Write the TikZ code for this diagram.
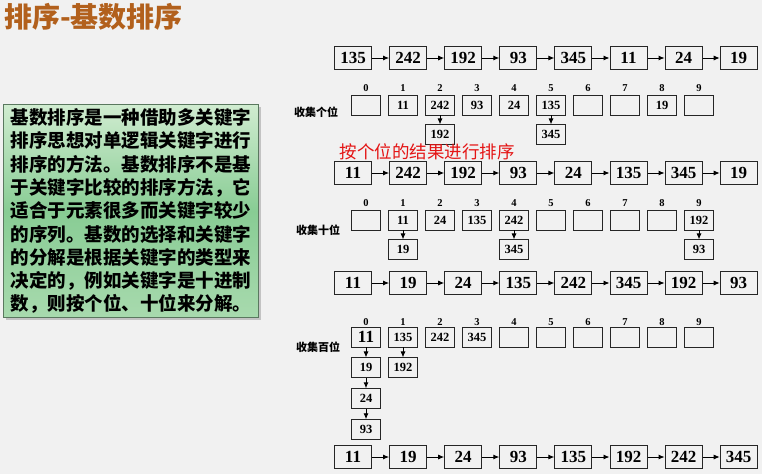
\documentclass[tikz,border=0pt]{standalone}
\usepackage{fontspec}
\setmainfont{Liberation Serif}
\newfontfamily\cjk{Noto Sans CJK SC}
\usetikzlibrary{positioning,shadows,arrows.meta}

\definecolor{pagegrey}{RGB}{241,241,241}
\definecolor{titlebrown}{RGB}{178,96,28}
\definecolor{notered}{RGB}{228,20,20}
\definecolor{greentop}{RGB}{208,236,208}
\definecolor{greenmid}{RGB}{136,204,148}
\definecolor{greenbot}{RGB}{168,218,174}
\definecolor{greenedge}{RGB}{90,120,95}

\begin{document}
\begin{tikzpicture}[x=1pt,y=-1pt]
    \tikzstyle{num} = [rectangle, draw=black!85, line width=1pt, minimum width=37pt, minimum height=23pt, inner sep=0pt, font=\fontsize{17}{17}\selectfont\bfseries]
    \tikzstyle{bucket} = [rectangle, draw=black!85, line width=0.9pt, minimum width=29pt, minimum height=20pt, inner sep=0pt, font=\fontsize{12.5}{12.5}\selectfont\bfseries]
    \tikzstyle{idx} = [inner sep=0pt, font=\fontsize{10.5}{10.5}\selectfont\bfseries]
    \tikzstyle{passlabel} = [inner sep=0pt, font=\cjk\bfseries\fontsize{11}{11}\selectfont]
    \tikzstyle{link} = [-{Latex[length=6pt,width=5pt]}, line width=0.9pt]

    % page
    \fill[pagegrey] (0,0) rectangle (762,474);
    \useasboundingbox (0,0) rectangle (762,474);

    \node (title) [anchor=west, inner sep=0pt, text=titlebrown, font=\cjk\bfseries\fontsize{28}{28}\selectfont] at (4,17) {排序-基数排序};

    \node (intro) [rectangle, anchor=north west, draw=greenedge, line width=1pt, minimum width=255pt, minimum height=209pt,
        top color=greentop, bottom color=greenbot, middle color=greenmid, drop shadow={shadow xshift=2pt, shadow yshift=-2pt, opacity=0.4},
        align=left, inner sep=4pt, font=\cjk\bfseries\fontsize{18.5}{23.3}\selectfont] at (3,104)
        {基数排序是一种借助多关键字\\排序思想对单逻辑关键字进行\\排序的方法。基数排序不是基\\于关键字比较的排序方法，它\\适合于元素很多而关键字较少\\的序列。基数的选择和关键字\\的分解是根据关键字的类型来\\决定的，例如关键字是十进制\\数，则按个位、十位来分解。};

    % the four lists
    \foreach \row/\y/\vals in {a/58/{135,242,192,93,345,11,24,19},
                               b/173/{11,242,192,93,24,135,345,19},
                               c/283/{11,19,24,135,242,345,192,93},
                               d/457/{11,19,24,93,135,192,242,345}} {
        \foreach \v [count=\i] in \vals
            \node (\row\i) [num] at ({353+55.1*(\i-1)},\y) {\v};
        \foreach \i in {1,...,7} {
            \pgfmathtruncatemacro\j{\i+1}
            \draw[link] (\row\i) -- (\row\j);
        }
    }

    % buckets by units digit
    \node (unit) [passlabel] at (316,112) {收集个位};
    \foreach \v [count=\k from 0] in {{},11,242,93,24,135,{},{},19,{}} {
        \node (u\k) [bucket] at ({366+37*\k},105) {\v};
        \node [idx, above=3pt of u\k] {\k};
    }
    \node (u2b) [bucket, below=9pt of u2] {192};
    \node (u5b) [bucket, below=9pt of u5] {345};
    \draw[link] (u2) -- (u2b);
    \draw[link] (u5) -- (u5b);

    \node (note) [text=notered, inner sep=0pt, font=\cjk\fontsize{17.5}{17.5}\selectfont] at (427,152) {按个位的结果进行排序};

    % buckets by tens digit
    \node (ten) [passlabel] at (318,230) {收集十位};
    \foreach \v [count=\k from 0] in {{},11,24,135,242,{},{},{},{},192} {
        \node (t\k) [bucket] at ({366+37*\k},220) {\v};
        \node [idx, above=3pt of t\k] {\k};
    }
    \node (t1b) [bucket, below=9pt of t1] {19};
    \node (t4b) [bucket, below=9pt of t4] {345};
    \node (t9b) [bucket, below=9pt of t9] {93};
    \draw[link] (t1) -- (t1b);
    \draw[link] (t4) -- (t4b);
    \draw[link] (t9) -- (t9b);

    % buckets by hundreds digit
    \node (hun) [passlabel] at (318,347) {收集百位};
    \foreach \v [count=\k from 0] in {{},135,242,345,{},{},{},{},{},{}} {
        \node (h\k) [bucket] at ({366+37*\k},337) {\v};
        \node [idx, above=1pt of h\k] {\k};
    }
    \node at (h0) [font=\fontsize{17}{17}\selectfont\bfseries] {11};
    \node (h0b) [bucket, below=10pt of h0] {19};
    \node (h0c) [bucket, below=10pt of h0b] {24};
    \node (h0d) [bucket, below=10pt of h0c] {93};
    \node (h1b) [bucket, below=10pt of h1] {192};
    \draw[link] (h0) -- (h0b);
    \draw[link] (h0b) -- (h0c);
    \draw[link] (h0c) -- (h0d);
    \draw[link] (h1) -- (h1b);
\end{tikzpicture}
\end{document}
